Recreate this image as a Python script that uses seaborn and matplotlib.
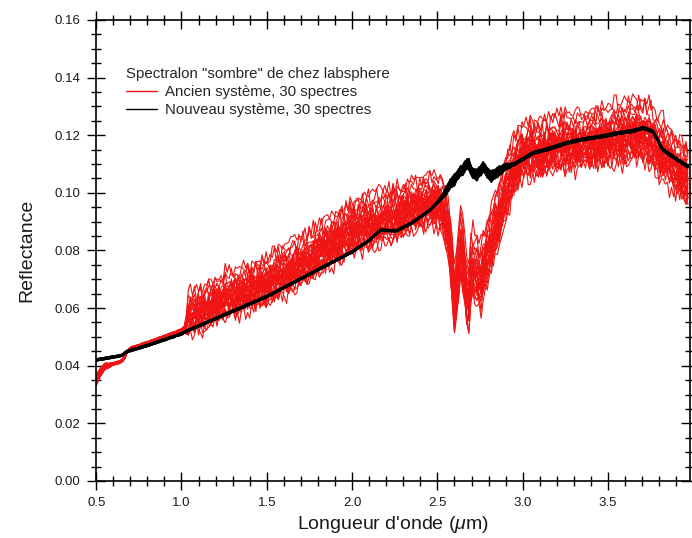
import numpy as np
import pandas as pd
import matplotlib
matplotlib.use("Agg")
import matplotlib.pyplot as plt
from matplotlib.ticker import MultipleLocator
from matplotlib.lines import Line2D
import seaborn as sns

# ---- data ----
red_x = [0.50, 0.52, 0.55, 0.60, 0.65, 0.67, 0.68, 0.70, 0.80, 0.90, 1.00, 1.03,
         1.04, 1.10, 1.25, 1.50, 1.75, 2.00, 2.25, 2.45, 2.52, 2.56, 2.58, 2.60,
         2.62, 2.64, 2.66, 2.68, 2.70, 2.72, 2.75, 2.78, 2.82, 2.86, 2.90, 2.95,
         3.00, 3.10, 3.25, 3.50, 3.65, 3.72, 3.80, 3.90, 3.97]
red_mean = [0.0345, 0.0370, 0.0395, 0.0405, 0.0415, 0.0430, 0.0448, 0.0458, 0.0478,
            0.0500, 0.0522, 0.0540, 0.0565, 0.0580, 0.0625, 0.0680, 0.0765, 0.0865,
            0.0910, 0.0960, 0.0950, 0.0870, 0.0760, 0.0610, 0.0700, 0.0820, 0.0700,
            0.0580, 0.0740, 0.0720, 0.0680, 0.0750, 0.0830, 0.0900, 0.0990, 0.1080,
            0.1130, 0.1140, 0.1160, 0.1180, 0.1200, 0.1195, 0.1140, 0.1080, 0.1040]

spread_x = [0.50, 0.56, 0.60, 1.02, 1.04, 1.50, 2.00, 2.50, 2.60, 2.90, 3.00, 3.50, 3.70, 3.97]
spread_v = [0.0015, 0.0008, 0.0004, 0.0004, 0.0055, 0.0065, 0.0072, 0.0072, 0.0090,
            0.0090, 0.0072, 0.0078, 0.0082, 0.0082]

wig_x = [0.50, 1.02, 1.04, 2.50, 3.00, 3.97]
wig_v = [0.0002, 0.0002, 0.0034, 0.0036, 0.0040, 0.0040]

black_x = [0.50, 0.60, 0.65, 0.676, 0.80, 1.00, 1.03, 1.50, 2.00, 2.10, 2.165, 2.26,
           2.35, 2.457, 2.53, 2.575, 2.60, 2.63, 2.65, 2.68, 2.70, 2.73, 2.77, 2.81,
           2.85, 2.90, 2.944, 3.06, 3.14, 3.26, 3.34, 3.45, 3.57, 3.65, 3.706, 3.765,
           3.82, 3.88, 3.97]
black_mean = [0.0420, 0.0430, 0.0435, 0.0448, 0.0470, 0.0510, 0.0520, 0.0640, 0.0795,
              0.0835, 0.0870, 0.0868, 0.0895, 0.0940, 0.0986, 0.1030, 0.1045, 0.1070,
              0.1080, 0.1107, 0.1070, 0.1060, 0.1090, 0.1055, 0.1070, 0.1090, 0.1097,
              0.1138, 0.1150, 0.1173, 0.1184, 0.1194, 0.1208, 0.1215, 0.1225, 0.1212,
              0.1150, 0.1125, 0.1090]
black_spread_x = [0.50, 2.50, 2.58, 2.85, 2.95, 3.97]
black_spread_v = [0.0003, 0.0003, 0.0015, 0.0015, 0.0004, 0.0004]

red_offsets = [-1.00, -0.82, -0.71, -0.64, -0.55, -0.47, -0.41, -0.33, -0.28, -0.22,
               -0.17, -0.12, -0.06, -0.02, 0.03, 0.07, 0.12, 0.16, 0.21, 0.27,
               0.31, 0.38, 0.44, 0.52, 0.61, 0.72, 0.86, 1.05, 1.28, 1.52]
black_offsets = [-1.0, -0.9, -0.8, -0.7, -0.6, -0.5, -0.45, -0.35, -0.3, -0.2,
                 -0.15, -0.1, -0.05, 0.0, 0.05, 0.1, 0.15, 0.2, 0.3, 0.35,
                 0.4, 0.5, 0.55, 0.6, 0.7, 0.75, 0.8, 0.9, 0.95, 1.0]
wiggle_a = [0.6, -0.4, 0.9, -0.7, 0.2, 1.0, -0.5, -0.9, 0.4, 0.8, -0.2, -1.0, 0.5, 0.1,
            0.9, -0.6, -0.3, 0.7, -0.8, 0.3, 1.0, -0.1, -0.7, 0.6, -0.9, 0.2, 0.8, -0.4,
            0.5, -1.0, 0.3, 0.9, -0.6, 0.1, -0.8, 0.7, -0.2, 0.4, -0.5, 1.0, -0.3]
wiggle_b = [-0.5, 0.8, 0.1, -0.9, 0.6, -0.2, 0.4, 1.0, -0.7, 0.3, -0.4, 0.9, -1.0, 0.2,
            0.7, -0.6, 0.0, 0.5, -0.8, 0.9, -0.3, 0.6, -0.9]

x_ticks = [0.5, 1.0, 1.5, 2.0, 2.5, 3.0, 3.5]
y_ticks = [0.00, 0.02, 0.04, 0.06, 0.08, 0.10, 0.12, 0.14, 0.16]

# ---- build long table ----
grid = np.arange(0.5, 3.975, 0.012)
rm = np.interp(grid, red_x, red_mean)
rs = np.interp(grid, spread_x, spread_v)
rw = np.interp(grid, wig_x, wig_v)
bm = np.interp(grid, black_x, black_mean)
bs = np.interp(grid, black_spread_x, black_spread_v)
WA = np.array(wiggle_a)
WB = np.array(wiggle_b)
idx = np.arange(len(grid))

rows = []
for k, off in enumerate(red_offsets):
    sign = 1 if k % 2 == 0 else -1
    step_a = 1 + (k % 4)
    step_b = 1 + ((k + 2) % 5)
    w = 0.6 * sign * WA[(idx * step_a + 13 * k) % len(WA)] + \
        0.5 * WB[(idx * step_b + 7 * k) % len(WB)]
    y = rm + off * rs + w * rw
    rows.append(pd.DataFrame({"wavelength": grid, "reflectance": y,
                              "spectrum": k, "system": "Ancien"}))
for k, off in enumerate(black_offsets):
    w = WA[(idx + 7 * k) % len(WA)]
    y = bm + off * bs + 0.4 * w * bs
    rows.append(pd.DataFrame({"wavelength": grid, "reflectance": y,
                              "spectrum": 100 + k, "system": "Nouveau"}))
df = pd.concat(rows, ignore_index=True)

# ---- plot ----
sns.set_theme(style="white")
plt.rcParams["font.family"] = ["Liberation Sans", "DejaVu Sans"]
plt.rcParams["mathtext.fontset"] = "custom"
plt.rcParams["mathtext.it"] = "Liberation Sans:italic"
plt.rcParams["mathtext.rm"] = "Liberation Sans"

fig = plt.figure(figsize=(6.92, 5.38), dpi=100)
ax = fig.add_axes([0.139, 0.106, 0.858, 0.857])

red_col = "#f01414"
sns.lineplot(data=df[df.system == "Ancien"], x="wavelength", y="reflectance",
             units="spectrum", estimator=None, color=red_col, lw=0.8, ax=ax,
             legend=False)
sns.lineplot(data=df[df.system == "Nouveau"], x="wavelength", y="reflectance",
             units="spectrum", estimator=None, color="black", lw=1.1, ax=ax,
             legend=False)

ax.set_xlim(0.5, 3.98)
ax.set_ylim(0.0, 0.16)
ax.set_xticks(x_ticks)
ax.set_xticklabels([f"{v:.1f}" for v in x_ticks])
ax.set_yticks(y_ticks)
ax.set_yticklabels([f"{v:.2f}" for v in y_ticks])
ax.xaxis.set_minor_locator(MultipleLocator(0.1))
ax.yaxis.set_minor_locator(MultipleLocator(0.005))
ax.tick_params(which="both", direction="inout", top=True, right=True,
               bottom=True, left=True, color="black", width=1.0,
               labelsize=9.5, labelcolor="#1a1a1a")
ax.tick_params(which="major", length=13, pad=5)
ax.tick_params(which="minor", length=7)
for s in ax.spines.values():
    s.set_color("black")
    s.set_linewidth(1.2)

ax.set_xlabel(r"Longueur d'onde ($\mu$m)", fontsize=14, color="#1a1a1a", labelpad=4)
ax.set_ylabel("Reflectance", fontsize=14, color="#1a1a1a", labelpad=14)

handles = [Line2D([0], [0], color=red_col, lw=1.0),
           Line2D([0], [0], color="black", lw=1.0)]
leg = ax.legend(handles, ["Ancien système, 30 spectres", "Nouveau système, 30 spectres"],
                title='Spectralon "sombre" de chez labsphere', loc="upper left",
                bbox_to_anchor=(0.045, 0.905), frameon=False, fontsize=10.8,
                title_fontsize=10.8, handlelength=2.1, handletextpad=0.5,
                labelspacing=0.3, borderpad=0.2, borderaxespad=0.0)
leg._legend_box.align = "left"
leg._legend_box.sep = 3

fig.savefig("out.png", dpi=100)
